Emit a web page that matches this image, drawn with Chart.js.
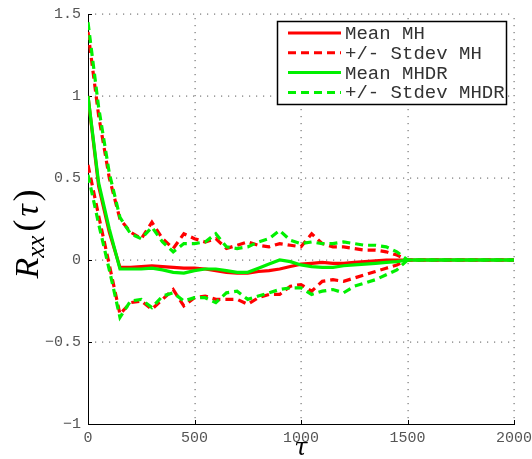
<!DOCTYPE html>
<html>
<head>
<meta charset="utf-8">
<script src="https://cdn.jsdelivr.net/npm/chart.js@4/dist/chart.umd.min.js"></script>
<style>
  html, body { margin: 0; padding: 0; background: #fff; }
  #wrap { width: 532px; height: 459px; position: relative; }
</style>
</head>
<body>
<div id="wrap"><canvas id="rxxChart"></canvas></div>
<script>
// --- Dados ---
const tau = [0, 50, 100, 150, 200, 250, 300, 350, 400, 450, 500, 550, 600, 650, 700, 750,
             800, 850, 900, 950, 1000, 1050, 1100, 1150, 1200, 1250, 1300, 1350, 1400, 1450, 1500, 2000];

const meanMH = [1.0, 0.45, 0.17, -0.045, -0.045, -0.04, -0.035, -0.04, -0.045, -0.05, -0.05, -0.055, -0.065, -0.075, -0.08, -0.08,
                -0.07, -0.065, -0.055, -0.04, -0.025, -0.02, -0.015, -0.02, -0.02, -0.015, -0.01, -0.005, 0.0, 0.0, 0, 0];
const upperMH = [1.39, 0.88, 0.50, 0.25, 0.17, 0.13, 0.23, 0.13, 0.07, 0.16, 0.13, 0.11, 0.13, 0.07, 0.09, 0.11,
                 0.09, 0.08, 0.10, 0.09, 0.08, 0.16, 0.10, 0.08, 0.08, 0.07, 0.06, 0.06, 0.05, 0.03, 0, 0];
const lowerMH = [0.58, 0.27, -0.03, -0.33, -0.26, -0.25, -0.30, -0.24, -0.18, -0.28, -0.23, -0.22, -0.24, -0.24, -0.24, -0.27,
                 -0.23, -0.21, -0.21, -0.16, -0.15, -0.19, -0.13, -0.12, -0.13, -0.11, -0.09, -0.07, -0.05, -0.03, 0, 0];

const meanMHDR = [1.0, 0.47, 0.19, -0.055, -0.055, -0.055, -0.05, -0.06, -0.075, -0.08, -0.065, -0.055, -0.055, -0.065, -0.075, -0.075,
                  -0.05, -0.025, 0.0, -0.01, -0.03, -0.04, -0.045, -0.045, -0.035, -0.03, -0.025, -0.02, -0.015, -0.01, 0, 0];
const upperMHDR = [1.45, 0.93, 0.53, 0.26, 0.16, 0.13, 0.20, 0.11, 0.05, 0.10, 0.10, 0.11, 0.16, 0.08, 0.07, 0.08,
                   0.11, 0.13, 0.18, 0.12, 0.10, 0.11, 0.10, 0.10, 0.11, 0.10, 0.09, 0.09, 0.08, 0.05, 0, 0];
const lowerMHDR = [0.52, 0.22, -0.06, -0.35, -0.25, -0.24, -0.29, -0.22, -0.20, -0.25, -0.23, -0.23, -0.26, -0.20, -0.19, -0.24,
                   -0.22, -0.20, -0.18, -0.17, -0.17, -0.21, -0.19, -0.18, -0.20, -0.16, -0.14, -0.12, -0.09, -0.06, 0, 0];

const legendLabels = ['Mean MH', '+/- Stdev MH', 'Mean MHDR', '+/- Stdev MHDR'];
const xTicks = [0, 500, 1000, 1500, 2000];
const yTicks = [-1, -0.5, 0, 0.5, 1, 1.5];

const RED = '#ff0000';
const GREEN = '#00f000';
const DASH = [8, 5];

const pts = arr => tau.map((t, i) => ({ x: t, y: arr[i] }));

function serie(label, arr, color, dashed) {
    return {
        label: label,
        data: pts(arr),
        borderColor: color,
        backgroundColor: color,
        borderWidth: 3.2,
        borderDash: dashed ? DASH : [],
        pointRadius: 0,
        tension: 0,
        fill: false
    };
}

// verde primeiro -> fica por cima no desenho
const datasets = [
    serie('Mean MHDR', meanMHDR, GREEN, false),
    serie('+/- Stdev MHDR', upperMHDR, GREEN, true),
    serie('+/- Stdev MHDR', lowerMHDR, GREEN, true),
    serie('Mean MH', meanMH, RED, false),
    serie('+/- Stdev MH', upperMH, RED, true),
    serie('+/- Stdev MH', lowerMH, RED, true)
];

// --- Legenda no estilo MATLAB ---
const legendStyle = {
    'Mean MH': [RED, false],
    '+/- Stdev MH': [RED, true],
    'Mean MHDR': [GREEN, false],
    '+/- Stdev MHDR': [GREEN, true]
};

const boxLegend = {
    id: 'boxLegend',
    afterDraw(chart) {
        const c = chart.ctx;
        const x0 = 277.5, y0 = 21.5, w = 229, h = 83;
        c.save();
        c.fillStyle = '#fff';
        c.fillRect(x0, y0, w, h);
        c.strokeStyle = '#000';
        c.lineWidth = 1.5;
        c.strokeRect(x0, y0, w, h);
        c.font = '19px "Liberation Mono", monospace';
        c.textBaseline = 'middle';
        legendLabels.forEach((lab, i) => {
            const y = 33 + i * 19.8;
            const [col, dashed] = legendStyle[lab];
            c.strokeStyle = col;
            c.lineWidth = 3;
            c.setLineDash(dashed ? DASH : []);
            c.beginPath();
            c.moveTo(288, y);
            c.lineTo(341, y);
            c.stroke();
            c.setLineDash([]);
            c.fillStyle = '#333';
            c.fillText(lab, 345, y + 1);
        });
        c.restore();
    }
};

// --- Grade pontilhada + marcas internas (estilo MATLAB) ---
const dottedGrid = {
    id: 'dottedGrid',
    beforeDatasetsDraw(chart) {
        const c = chart.ctx;
        const { left, right, top, bottom } = chart.chartArea;
        const sx = chart.scales.x, sy = chart.scales.y;
        c.save();
        c.fillStyle = '#777';
        xTicks.forEach(v => {
            const x = Math.round(sx.getPixelForValue(v));
            if (x <= left + 1) return;
            for (let y = bottom - 7; y >= top; y -= 7) c.fillRect(x - 0.5, y, 1.2, 1.2);
        });
        yTicks.forEach(v => {
            const y = Math.round(sy.getPixelForValue(v));
            if (y >= bottom - 1) return;
            for (let x = left + 7; x <= right; x += 7) c.fillRect(x, y - 0.5, 1.2, 1.2);
        });
        // marcas curtas para dentro
        c.strokeStyle = '#000';
        c.lineWidth = 1;
        c.beginPath();
        xTicks.forEach(v => {
            const x = Math.round(sx.getPixelForValue(v)) + 0.5;
            c.moveTo(x, bottom); c.lineTo(x, bottom - 4);
        });
        yTicks.forEach(v => {
            const y = Math.round(sy.getPixelForValue(v)) + 0.5;
            c.moveTo(left, y); c.lineTo(left + 4, y);
        });
        c.stroke();
        c.restore();
    }
};

// --- Títulos dos eixos (R_xx(tau) e tau) ---
const axisTitles = {
    id: 'axisTitles',
    afterDraw(chart) {
        const c = chart.ctx;
        c.save();
        c.fillStyle = '#000';
        c.textBaseline = 'alphabetic';
        // eixo x
        c.font = 'italic 24px "DejaVu Serif", serif';
        c.textAlign = 'center';
        c.fillText('\u03C4', 301, 455);
        // eixo y (rotacionado)
        c.translate(38, 234);
        c.rotate(-Math.PI / 2);
        const big = 'italic 34px "Liberation Serif", serif';
        const small = 'italic 25px "Liberation Serif", serif';
        const bigUp = '36px "Liberation Serif", serif';
        const parts = [['R', big, 0, 0], ['xx', small, 6, 4], ['(', bigUp, 0, 3], ['\u03C4', big, 0, 3], [')', bigUp, 0, 0]];
        let total = 0;
        parts.forEach(p => { c.font = p[1]; total += c.measureText(p[0]).width + p[3]; });
        let x = -total / 2;
        c.textAlign = 'left';
        parts.forEach(p => {
            c.font = p[1];
            c.fillText(p[0], x, p[2]);
            x += c.measureText(p[0]).width + p[3];
        });
        c.restore();
    }
};

const tickFont = { family: '"Liberation Mono", monospace', size: 15 };
const gridOpts = { display: false, drawTicks: false };

const ctx = document.getElementById('rxxChart').getContext('2d');
const rxxChart = new Chart(ctx, {
    type: 'line',
    data: { datasets: datasets },
    options: {
        responsive: true,
        maintainAspectRatio: false,
        animation: false,
        layout: { padding: { top: 14, right: 18, left: 0, bottom: 0 } },
        plugins: { legend: { display: false }, tooltip: { enabled: false } },
        scales: {
            x: {
                type: 'linear',
                min: 0, max: 2000,
                afterBuildTicks: s => { s.ticks = xTicks.map(v => ({ value: v })); },
                afterFit: s => { s.height = 35; s.paddingRight = 0; s.paddingLeft = 0; },
                grid: gridOpts,
                border: { display: true, color: '#000', width: 1 },
                ticks: { color: '#555', font: tickFont, padding: 5, maxRotation: 0, callback: v => String(v) }
            },
            y: {
                type: 'linear',
                min: -1, max: 1.5,
                afterBuildTicks: s => { s.ticks = yTicks.map(v => ({ value: v })); },
                afterFit: s => { s.width = 88; s.paddingTop = 0; s.paddingBottom = 0; },
                grid: gridOpts,
                border: { display: true, color: '#000', width: 1 },
                ticks: { color: '#555', font: tickFont, padding: 7, callback: v => String(v).replace('-', '\u2212') }
            }
        }
    },
    plugins: [dottedGrid, axisTitles, boxLegend]
});
</script>
</body>
</html>
